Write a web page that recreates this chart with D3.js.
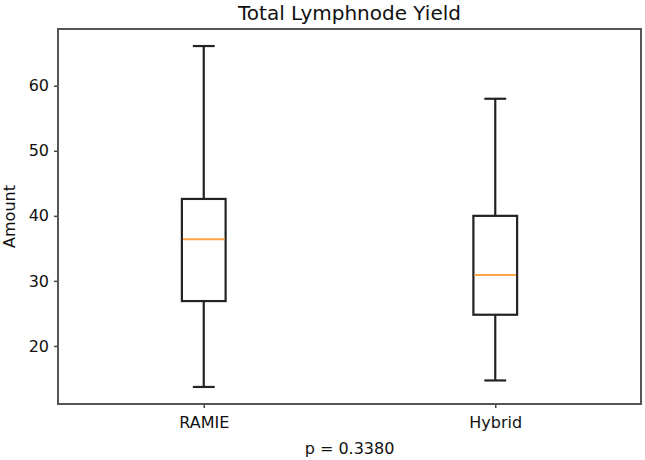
<!DOCTYPE html>
<html><head><meta charset="utf-8">
<script src="https://cdn.jsdelivr.net/npm/d3@7"></script>
<style>body{margin:0;background:#fff;} svg{display:block;font-family:"DejaVu Sans",sans-serif;}</style>
</head><body><svg id="c" width="645" height="460"></svg>
<script>
const categories = ["RAMIE", "Hybrid"];
const whiskerLow = [13.7, 14.7];
const q1 = [26.9, 24.8];
const median = [36.4, 30.9];
const q3 = [42.6, 40.0];
const whiskerHigh = [66.1, 58.0];
const yTicks = [20, 30, 40, 50, 60];

const W = 645, H = 460;
const m = {left: 58, right: 4, top: 29, bottom: 56};
const svg = d3.select("#c");
const iw = W - m.left - m.right, ih = H - m.top - m.bottom;
const g = svg.append("g").attr("transform", `translate(${m.left},${m.top})`);

const lo = d3.min(whiskerLow), hi = d3.max(whiskerHigh), pad = (hi - lo) * 0.05;
const y = d3.scaleLinear().domain([lo - pad, hi + pad]).range([ih, 0]);
const x = d3.scaleLinear().domain([0.5, 2.5]).range([0, iw]);
const bw = x(1.15) - x(1);

const yAxis = g.append("g").call(d3.axisLeft(y).tickValues(yTicks).tickSize(4).tickPadding(5));
const xAxis = g.append("g").attr("transform", `translate(0,${ih})`)
  .call(d3.axisBottom(x).tickValues([1, 2]).tickFormat((d, i) => categories[i]).tickSize(4).tickPadding(9));
[yAxis, xAxis].forEach(a => {
  a.select(".domain").remove();
  a.selectAll("line").attr("stroke", "#444").attr("stroke-width", 1.5);
  a.selectAll("text").attr("font-size", 16).attr("fill", "#111").attr("font-family", "DejaVu Sans");
});
g.append("rect").attr("x", 0).attr("y", 0).attr("width", iw).attr("height", ih)
  .attr("fill", "none").attr("stroke", "#555").attr("stroke-width", 2);

categories.forEach((c, i) => {
  const cx = x(i + 1);
  const bg = g.append("g").attr("stroke", "#222").attr("stroke-width", 2.2).attr("fill", "none");
  bg.append("line").attr("x1", cx).attr("x2", cx).attr("y1", y(whiskerLow[i])).attr("y2", y(q1[i]));
  bg.append("line").attr("x1", cx).attr("x2", cx).attr("y1", y(q3[i])).attr("y2", y(whiskerHigh[i]));
  bg.append("line").attr("x1", cx - bw / 4).attr("x2", cx + bw / 4).attr("y1", y(whiskerLow[i])).attr("y2", y(whiskerLow[i]));
  bg.append("line").attr("x1", cx - bw / 4).attr("x2", cx + bw / 4).attr("y1", y(whiskerHigh[i])).attr("y2", y(whiskerHigh[i]));
  bg.append("rect").attr("x", cx - bw / 2).attr("width", bw).attr("y", y(q3[i])).attr("height", y(q1[i]) - y(q3[i]));
  g.append("line").attr("x1", cx - bw / 2 + 1).attr("x2", cx + bw / 2 - 1).attr("y1", y(median[i])).attr("y2", y(median[i]))
    .attr("stroke", "#ffa445").attr("stroke-width", 2);
});

svg.append("text").attr("x", m.left + iw / 2).attr("y", 20).attr("text-anchor", "middle")
  .attr("font-size", 20).attr("fill", "#111").text("Total Lymphnode Yield");
svg.append("text").attr("transform", `translate(15,${m.top + ih / 2}) rotate(-90)`).attr("text-anchor", "middle")
  .attr("font-size", 16).attr("fill", "#111").text("Amount");
svg.append("text").attr("x", m.left + iw / 2).attr("y", 454).attr("text-anchor", "middle")
  .attr("font-size", 16).attr("fill", "#111").text("p = 0.3380");
</script></body></html>
